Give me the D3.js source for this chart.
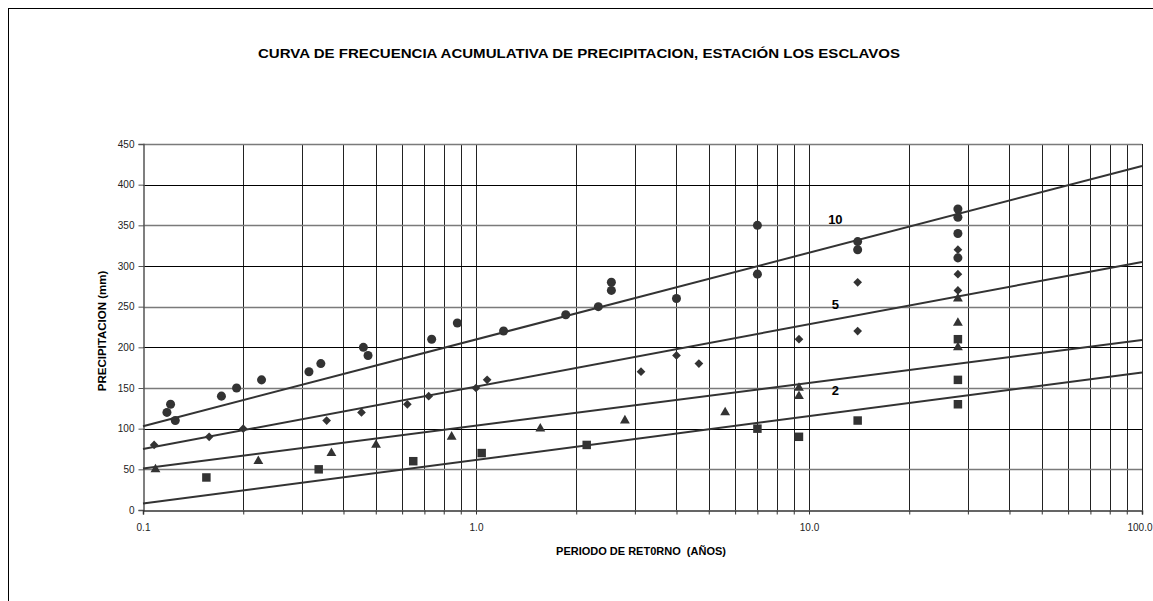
<!DOCTYPE html>
<html>
<head>
<meta charset="utf-8">
<script src="https://cdn.jsdelivr.net/npm/d3@7"></script>
<style>
  html, body { margin: 0; padding: 0; background: #fff; }
  svg { display: block; font-family: Arial, "Liberation Sans", sans-serif; }
</style>
</head>
<body>
<svg id="chart" width="1153" height="601"></svg>
<script>
// Return periods (years) and rainfall (mm) for each marker series
const circleT = [0.118, 0.121, 0.125, 0.172, 0.191, 0.227, 0.315, 0.342, 0.459, 0.474, 0.736, 0.879, 1.21, 1.86, 2.33, 2.55, 2.55, 4.0, 7.0, 7.0, 14.0, 14.0, 28, 28, 28, 28];
const circleP = [120, 130, 110, 140, 150, 160, 170, 180, 200, 190, 210, 230, 220, 240, 250, 280, 270, 260, 350, 290, 330, 320, 370, 360, 340, 310];

const diamondT = [0.108, 0.158, 0.2, 0.356, 0.453, 0.622, 0.721, 1.0, 1.08, 3.13, 4.0, 4.67, 9.33, 14.0, 14.0, 28, 28, 28];
const diamondP = [80, 90, 100, 110, 120, 130, 140, 150, 160, 170, 190, 180, 210, 220, 280, 320, 290, 270];

const triangleT = [0.109, 0.222, 0.368, 0.501, 0.845, 1.56, 2.8, 5.6, 9.33, 9.33, 28, 28, 28];
const triangleP = [50, 60, 70, 80, 90, 100, 110, 120, 150, 140, 260, 230, 200];

const squareT = [0.155, 0.337, 0.648, 1.04, 2.15, 7.0, 9.33, 14.0, 28, 28, 28];
const squareP = [40, 50, 60, 70, 80, 100, 90, 110, 210, 160, 130];

// Fitted frequency lines (straight on the log axis), end points at T = 0.1 and T = 100
const lineT = [0.1, 100];
const lineNames = ["10", "5", "2", "1"];
const lineP = [
  [103, 423],
  [75, 305],
  [51, 209],
  [8, 169]
];
// Line labels and where they sit (return period, mm)
const labelNames = ["10", "5", "2"];
const labelT = [12.0, 12.0, 12.0];
const labelP = [352, 247, 141];

const yTicks = [0, 50, 100, 150, 200, 250, 300, 350, 400, 450];
const xTickLabels = ["0.1", "1.0", "10.0", "100.0"];
const xTickValues = [0.1, 1, 10, 100];

const svg = d3.select("#chart");
const ink = "#333";

// Outer chart frame
svg.append("rect")
  .attr("x", 8.5).attr("y", 8.5)
  .attr("width", 1200).attr("height", 700)
  .attr("fill", "none").attr("stroke", "#000").attr("stroke-width", 1);

const x = d3.scaleLog().domain([0.1, 100]).range([143, 1142]);
const y = d3.scaleLinear().domain([0, 450]).range([510, 144]);

// Minor positions on each decade for grid and ticks
const minorT = [];
[0.1, 1, 10].forEach(d => { for (let k = 1; k <= 9; k++) minorT.push(+(d * k).toPrecision(3)); });
minorT.push(100);

const grid = svg.append("g");
grid.selectAll("line.v").data(minorT.filter(t => t > 0.1)).join("line")
  .attr("class", "v")
  .attr("x1", d => Math.round(x(d)) + 0.5).attr("x2", d => Math.round(x(d)) + 0.5)
  .attr("y1", y(450)).attr("y2", y(0))
  .attr("stroke", "#222").attr("stroke-width", 1);

grid.selectAll("line.h").data(yTicks.filter(v => v > 0)).join("line")
  .attr("class", "h")
  .attr("x1", x(0.1)).attr("x2", x(100))
  .attr("y1", d => Math.round(y(d)) + 0.5).attr("y2", d => Math.round(y(d)) + 0.5)
  .attr("stroke", d => d % 100 === 0 ? "#000" : "#7a7a7a")
  .attr("stroke-width", d => d % 100 === 0 ? 1 : 1.6);

// Y axis
const yAxis = d3.axisLeft(y).tickValues(yTicks).tickSize(5).tickPadding(4).tickFormat(d3.format("d"));
const gy = svg.append("g").attr("transform", "translate(143.5,0)").call(yAxis);
gy.select(".domain").attr("stroke", "#555").attr("stroke-width", 1.5);
gy.selectAll(".tick line").attr("stroke", "#555");
gy.selectAll("text").attr("font-size", 10).attr("fill", "#222").attr("font-family", "Arial, 'Liberation Sans', sans-serif");

// X axis: minor ticks without labels, labels on decades
const xAxis = d3.axisBottom(x).tickValues(minorT).tickSize(4).tickPadding(9)
  .tickFormat(d => { const i = xTickValues.indexOf(d); return i >= 0 ? xTickLabels[i] : ""; });
const gx = svg.append("g").attr("transform", "translate(0,510.5)").call(xAxis);
gx.select(".domain").attr("stroke", "#333").attr("stroke-width", 1.5);
gx.selectAll(".tick line").attr("stroke", "#333");
gx.selectAll("text").attr("font-size", 10).attr("fill", "#222").attr("font-family", "Arial, 'Liberation Sans', sans-serif");
// keep the last decade label inside the frame edge
gx.selectAll(".tick").filter(d => d === 100).select("text")
  .attr("text-anchor", "end").attr("dx", 10);

// Fitted lines
const line = d3.line().x(d => x(d[0])).y(d => y(d[1]));
svg.append("g").selectAll("path").data(lineP).join("path")
  .attr("d", p => line(lineT.map((t, i) => [t, p[i]])))
  .attr("fill", "none").attr("stroke", ink).attr("stroke-width", 2);

// Markers
function markers(T, P, type, size, rotate) {
  const sym = d3.symbol().type(type).size(size);
  svg.append("g").selectAll("path").data(T.map((t, i) => [t, P[i]])).join("path")
    .attr("d", sym)
    .attr("transform", d => `translate(${x(d[0])},${y(d[1])})` + (rotate ? ` rotate(${rotate})` : ""))
    .attr("fill", ink);
}
markers(circleT, circleP, d3.symbolCircle, 64);
markers(diamondT, diamondP, d3.symbolSquare, 38, 45);
markers(triangleT, triangleP, d3.symbolTriangle, 42);
markers(squareT, squareP, d3.symbolSquare, 72);

// Line labels
svg.append("g").selectAll("text").data(labelNames).join("text")
  .attr("x", (d, i) => x(labelT[i]))
  .attr("y", (d, i) => y(labelP[i]))
  .attr("text-anchor", "middle")
  .attr("font-size", 13).attr("font-weight", "bold").attr("fill", "#000")
  .text(d => d);

// Titles
svg.append("text")
  .attr("x", 579).attr("y", 58)
  .attr("text-anchor", "middle")
  .attr("font-size", 13).attr("font-weight", "bold")
  .attr("textLength", 642).attr("lengthAdjust", "spacingAndGlyphs")
  .text("CURVA DE FRECUENCIA ACUMULATIVA DE PRECIPITACION, ESTACIÓN LOS ESCLAVOS");

svg.append("text")
  .attr("x", 641).attr("y", 555)
  .attr("text-anchor", "middle")
  .attr("font-size", 11).attr("font-weight", "bold")
  .attr("xml:space", "preserve")
  .text("PERIODO DE RET0RNO  (AÑOS)");

svg.append("text")
  .attr("transform", "translate(106,331) rotate(-90)")
  .attr("text-anchor", "middle")
  .attr("font-size", 11.5).attr("font-weight", "bold")
  .text("PRECIPITACION (mm)");
</script>
</body>
</html>
